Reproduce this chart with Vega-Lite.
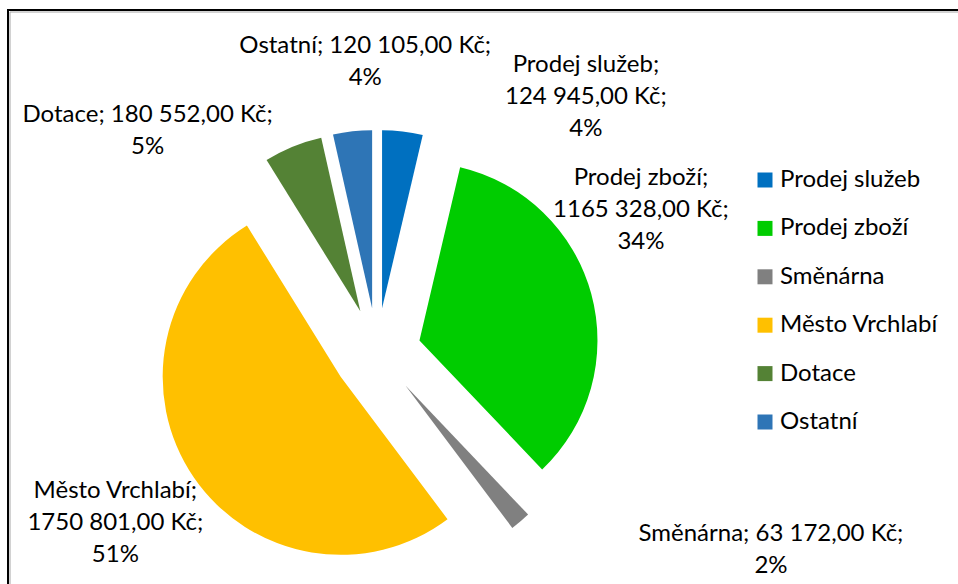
{
  "$schema": "https://vega.github.io/schema/vega-lite/v6.json",
  "width": 948,
  "height": 572,
  "autosize": {"type": "none"},
  "padding": {"left": 10, "top": 12, "right": 0, "bottom": 0},
  "background": "white",
  "config": {
    "view": {"stroke": null},
    "font": "Lato",
    "legend": {
      "orient": "none",
      "legendX": 743,
      "legendY": 156,
      "symbolType": "square",
      "symbolSize": 225,
      "symbolStrokeWidth": 0,
      "labelFont": "Lato",
      "labelFontSize": 24,
      "labelColor": "#000000",
      "labelOffset": 3,
      "labelLimit": 300,
      "rowPadding": 24.4,
      "padding": 0
    }
  },
  "data": {
    "values": [
      {"i": 1, "category": "Prodej služeb", "value": 124945, "label": "Prodej služeb;|124 945,00 Kč;|4%"},
      {"i": 2, "category": "Prodej zboží", "value": 1165328, "label": "Prodej zboží;|1165 328,00 Kč;|34%"},
      {"i": 3, "category": "Směnárna", "value": 63172, "label": "Směnárna; 63 172,00 Kč;|2%"},
      {"i": 4, "category": "Město Vrchlabí", "value": 1750801, "label": "Město Vrchlabí;|1750 801,00 Kč;|51%"},
      {"i": 5, "category": "Dotace", "value": 180552, "label": "Dotace; 180 552,00 Kč;|5%"},
      {"i": 6, "category": "Ostatní", "value": 120105, "label": "Ostatní; 120 105,00 Kč;|4%"}
    ]
  },
  "layer": [
    {
      "data": {"values": [{}]},
      "mark": {"type": "rect", "fill": null, "stroke": "#000000", "strokeWidth": 2},
      "encoding": {"x": {"value": -2}, "y": {"value": -2}, "x2": {"value": 3000}, "y2": {"value": 3000}}
    },
    {
      "data": {"values": [{}]},
      "mark": {"type": "rect", "fill": null, "stroke": "#a6a6a6", "strokeWidth": 1},
      "encoding": {"x": {"value": 0}, "y": {"value": 0}, "x2": {"value": 3000}, "y2": {"value": 3000}}
    },
    {
      "mark": {
        "type": "arc",
        "radius": 178,
        "stroke": null,
        "xOffset": {"expr": "-107 + 44*sin((scale('theta', datum.value_start) + scale('theta', datum.value_end))/2)"},
        "yOffset": {"expr": "54 - 44*cos((scale('theta', datum.value_start) + scale('theta', datum.value_end))/2)"}
      },
      "encoding": {
        "theta": {"field": "value", "type": "quantitative", "stack": true},
        "order": {"field": "i", "type": "quantitative"},
        "color": {
          "field": "category",
          "type": "nominal",
          "scale": {
            "domain": ["Prodej služeb", "Prodej zboží", "Směnárna", "Město Vrchlabí", "Dotace", "Ostatní"],
            "range": ["#0070C0", "#00CC00", "#808080", "#FFC000", "#548235", "#2E75B6"]
          },
          "legend": {"title": null}
        }
      }
    },
    {
      "mark": {
        "type": "text",
        "radius": 260,
        "xOffset": -107,
        "yOffset": 54,
        "dx": {"expr": "[179, 13, 226, -47, -131, 17][datum.i - 1]"},
        "dy": {"expr": "[-22, -99, -9, -1, 11, -41][datum.i - 1]"},
        "lineBreak": "|",
        "lineHeight": 32,
        "fontSize": 24,
        "font": "Lato",
        "align": "center",
        "baseline": "alphabetic",
        "color": "#000000"
      },
      "encoding": {
        "theta": {"field": "value", "type": "quantitative", "stack": true},
        "order": {"field": "i", "type": "quantitative"},
        "text": {"field": "label"}
      }
    }
  ]
}
